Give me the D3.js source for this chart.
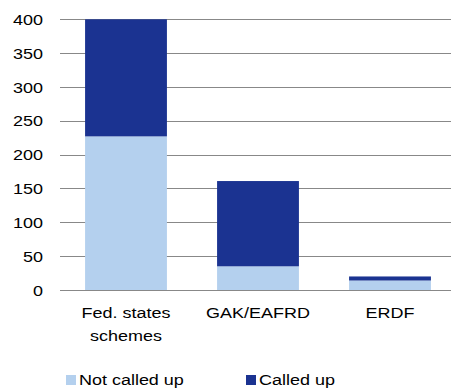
<!DOCTYPE html>
<html>
<head>
<meta charset="utf-8">
<script src="https://cdn.jsdelivr.net/npm/d3@7"></script>
<style>
  body { margin: 0; background: #fff; }
  text { font-family: "Liberation Sans", Arial, sans-serif; fill: #000; }
</style>
</head>
<body>
<div id="chart"></div>
<script>
// --------------------------------------
//  Data
// --------------------------------------

const categories = ["Fed. states schemes", "GAK/EAFRD", "ERDF"];
const categoryLines = [["Fed. states", "schemes"], ["GAK/EAFRD"], ["ERDF"]];
const notCalledUp = [227, 35, 14];
const calledUp = [173, 126, 6];
const seriesNames = ["Not called up", "Called up"];
const yTicks = [0, 50, 100, 150, 200, 250, 300, 350, 400];

// --------------------------------------
//  Canvas
// --------------------------------------

const width = 451;
const height = 390;
const plot = {left: 60, right: 456, top: 19.3, bottom: 290};
const stretch = "scale(1.16, 1)";   // text in the original is a bit wide
const fontSize = "15.5px";

const svg = d3.select("#chart")
  .append("svg")
    .attr("width", width)
    .attr("height", height);

const rows = categories.map((c, i) => ({
  cat: c,
  "Not called up": notCalledUp[i],
  "Called up": calledUp[i]
}));

const stacked = d3.stack().keys(seriesNames)(rows);

// --------------------------------------
//  Scales
// --------------------------------------

const x = d3.scaleBand()
    .domain(categories)
    .range([plot.left, plot.right])
    .paddingInner(0.38)
    .paddingOuter(0.19);

const y = d3.scaleLinear()
    .domain([0, 400])
    .range([plot.bottom, plot.top]);

const c = d3.scaleOrdinal()
    .domain(seriesNames)
    .range(["#b4d0ee", "#1b3391"]);

// --------------------------------------
//  Axes / gridlines
// --------------------------------------

svg.append("g")
    .attr("class", "grid")
    .selectAll("line")
    .data(yTicks)
    .join("line")
      .attr("x1", plot.left)
      .attr("x2", width)
      .attr("y1", d => Math.round(y(d)) + 0.5)
      .attr("y2", d => Math.round(y(d)) + 0.5)
      .attr("stroke", "#888")
      .attr("stroke-width", 1);

svg.append("g")
    .attr("class", "y-labels")
    .selectAll("text")
    .data(yTicks)
    .join("text")
      .attr("transform", d => `translate(43, ${y(d)}) ${stretch}`)
      .attr("dy", "0.36em")
      .attr("text-anchor", "end")
      .style("font-size", fontSize)
      .text(d => d);

// --------------------------------------
//  Bars
// --------------------------------------

svg.append("g")
    .selectAll("g")
    .data(stacked)
    .join("g")
      .attr("fill", d => c(d.key))
    .selectAll("rect")
    .data(d => d)
    .join("rect")
      .attr("x", d => x(d.data.cat))
      .attr("y", d => y(d[1]))
      .attr("width", x.bandwidth())
      .attr("height", d => y(d[0]) - y(d[1]));

// baseline on top of bars
svg.append("line")
    .attr("x1", plot.left)
    .attr("x2", width)
    .attr("y1", Math.round(y(0)) + 0.5)
    .attr("y2", Math.round(y(0)) + 0.5)
    .attr("stroke", "#888");

// category labels
const xl = svg.append("g")
    .selectAll("text")
    .data(categories)
    .join("text")
      .attr("text-anchor", "middle")
      .attr("transform", d => `translate(${x(d) + x.bandwidth() / 2}, 318) ${stretch}`)
      .style("font-size", fontSize);

xl.selectAll("tspan")
    .data((d, i) => categoryLines[i])
    .join("tspan")
      .attr("x", 0)
      .attr("dy", (d, i) => i === 0 ? 0 : 23.5)
      .text(d => d);

// --------------------------------------
//  Legend
// --------------------------------------

const legendX = [66, 246];

const legend = svg.append("g")
    .selectAll("g")
    .data(seriesNames)
    .join("g")
      .attr("transform", (d, i) => `translate(${legendX[i]}, 375)`);

legend.append("rect")
    .attr("width", 10)
    .attr("height", 10)
    .attr("fill", d => c(d));

legend.append("text")
    .attr("transform", `translate(13, 10) ${stretch}`)
    .style("font-size", fontSize)
    .text(d => d);
</script>
</body>
</html>
